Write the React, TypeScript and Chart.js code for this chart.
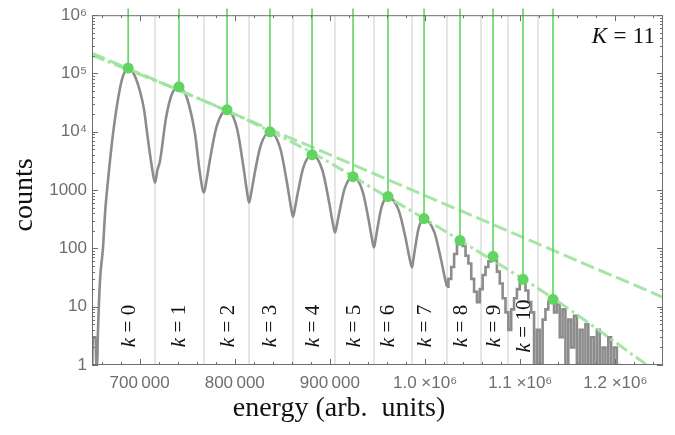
import React, { useEffect, useRef } from "react";
import { Chart, registerables } from "chart.js";
Chart.register(...registerables);

// ---------- data ----------
const X_MIN = 650000;
const X_MAX = 1250000;
const Y_MIN = 1;
const Y_MAX = 1e6;

const X_TICKS = [700000, 800000, 900000, 1000000, 1100000, 1200000];
const X_TICK_LABELS = ["700\u2009000", "800\u2009000", "900\u2009000", "1.0 \u00d710\u2076", "1.1 \u00d710\u2076", "1.2 \u00d710\u2076"];
const Y_TICKS = [1, 10, 100, 1000, 1e4, 1e5, 1e6];
const Y_TICK_LABELS = ["1", "10", "100", "1000", "10\u2074", "10\u2075", "10\u2076"];

// peak positions (green stems / dots)
const PEAK_E = [688000, 741400, 791900, 837000, 881200, 924300, 961000, 998900, 1036700, 1071400, 1102900, 1134400];
const PEAK_C = [124000, 59000, 23800, 10000, 4050, 1700, 775, 325, 137, 73, 29.5, 13.4];
const STEM_TOP = 1.3e6;
const K_LABELS = ["0", "1", "2", "3", "4", "5", "6", "7", "8", "9", "10"];
const K_TOTAL = "11";

// region boundaries (light grey verticals)
const BOUNDARY_E = [716200, 767700, 815000, 861200, 905300, 946300, 986300, 1023000, 1058800, 1087100, 1118700];

// smooth part of the measured spectrum
const SPEC_E = [
  650300, 651000, 653800, 654500, 655300, 656300, 658400, 661600, 663700, 666800, 672100, 679400, 683600, 687800,
  692000, 696200, 700400, 704600, 708800, 713000, 716200,
  718700, 721500, 727800, 734100, 741400, 745600, 749800, 758200, 763500, 767700,
  770100, 773700, 781000, 791900, 802300, 809200, 812700, 815000,
  817200, 820500, 827100, 837000, 847900, 855200, 858800, 861200,
  863200, 866200, 872200, 881200, 892100, 899300, 902900, 905300,
  907200, 910100, 915700, 924300, 934200, 940800, 944100, 946300,
  947800, 950000, 954400, 961000, 972400, 980000, 983700, 986300,
  987500, 989400, 993200, 998900, 1009700, 1017000, 1020600, 1023000,
];
const SPEC_C = [
  1, 3, 3, 1, 1, 4, 28, 105, 400, 1450, 9300, 56000, 100000, 122000,
  112000, 81000, 50000, 24500, 7400, 2450, 1340,
  2190, 3200, 17400, 45000, 58000, 52000, 38000, 9300, 1900, 910,
  1390, 3150, 12400, 23500, 11500, 2450, 980, 610,
  877, 1770, 5710, 9900, 5120, 1250, 542, 350,
  482, 889, 2480, 4000, 2190, 600, 278, 187,
  248, 432, 1090, 1680, 973, 302, 150, 104,
  136, 224, 520, 765, 444, 137, 68, 47,
  61, 98, 220, 320, 190, 62, 32, 22,
];

// noisy histogram tail (bins of 3000)
const TAIL_START = 1023000;
const TAIL_BIN = 3000;
const TAIL_C = [
  22, 30, 48, 80, 120, 130, 110, 75, 55, 30, 18, 12, 20, 35, 48, 60, 70, 62, 40, 25,
  14, 8, 4, 9, 14, 20, 27, 28, 19, 12, 8, 1, 4, 1, 6, 9, 12, 13, 8, 11,
  3, 9, 1, 6, 2, 7, 1, 4, 1, 5, 1, 3, 1, 4, 1, 2, 1, 3, 1, 2, 1, 1,
];

// exponential fit (dashed) and model curve (dash-dot)
const FIT_E = [650000, 1250000];
const FIT_C = [224000, 14.5];
const MODEL_E = [650000, 791900, 881200, 952600, 998900, 1036700, 1134400, 1236300];
const MODEL_C = [207000, 22900, 4380, 906, 326, 137, 14, 0.92];

// ---------- styles ----------
const GREEN = "rgb(98, 212, 98)";
const FIT_GREEN = "rgba(160, 228, 160, 0.95)";
const GREY = "rgb(140, 140, 140)";
const FRAME = "rgb(110, 110, 110)";
const TICK_TEXT = "rgb(110, 110, 110)";
const SERIF = "'Liberation Serif', 'DejaVu Serif', serif";
const SANS = "'Liberation Sans', Arial, sans-serif";

function drawMath(ctx: CanvasRenderingContext2D, parts: { t: string; it?: boolean; gap?: number }[], size: number, cx: number, cy: number, align: "center" | "right") {
  const widths = parts.map((p) => {
    ctx.font = `${p.it ? "italic " : ""}${size}px ${SERIF}`;
    return ctx.measureText(p.t).width + (p.gap || 0) * size;
  });
  const total = widths.reduce((a, b) => a + b, 0);
  let x = align === "center" ? cx - total / 2 : cx - total;
  ctx.textAlign = "left";
  ctx.textBaseline = "middle";
  parts.forEach((p, i) => {
    ctx.font = `${p.it ? "italic " : ""}${size}px ${SERIF}`;
    ctx.fillText(p.t, x, cy);
    x += widths[i];
  });
}

const decorPlugin = {
  id: "decor",
  afterDatasetsDraw(chart: any) {
    const { ctx, chartArea: ca, scales } = chart;
    const xs = scales.x;
    const ys = scales.y;
    ctx.save();
    // frame
    ctx.strokeStyle = FRAME;
    ctx.lineWidth = 1;
    ctx.strokeRect(ca.left + 0.5, ca.top + 0.5, ca.right - ca.left - 1, ca.bottom - ca.top - 1);
    // x ticks (inward, bottom and top)
    ctx.beginPath();
    for (let v = 660000; v < X_MAX; v += 20000) {
      const px = Math.round(xs.getPixelForValue(v)) + 0.5;
      const len = v % 100000 === 0 ? 6 : 3;
      ctx.moveTo(px, ca.bottom);
      ctx.lineTo(px, ca.bottom - len);
      ctx.moveTo(px, ca.top);
      ctx.lineTo(px, ca.top + len);
    }
    // y ticks (inward, left and right)
    for (let d = 0; d <= 6; d++) {
      for (let m = 1; m <= 9; m++) {
        const v = m * Math.pow(10, d);
        if (v > Y_MAX) break;
        const py = Math.round(ys.getPixelForValue(v)) + 0.5;
        const len = m === 1 ? 6 : 3;
        ctx.moveTo(ca.left, py);
        ctx.lineTo(ca.left + len, py);
        ctx.moveTo(ca.right, py);
        ctx.lineTo(ca.right - len, py);
      }
    }
    ctx.stroke();

    // k labels
    ctx.fillStyle = "#111";
    K_LABELS.forEach((k, i) => {
      const px = xs.getPixelForValue(PEAK_E[i]);
      ctx.save();
      ctx.translate(px + 1, 326);
      ctx.rotate(-Math.PI / 2);
      drawMath(ctx, [{ t: "k", it: true, gap: 0.26 }, { t: "=", gap: 0.26 }, { t: k }], 21, 0, 0, "center");
      ctx.restore();
    });
    // K = 11
    drawMath(ctx, [{ t: "K", it: true, gap: 0.28 }, { t: "=", gap: 0.28 }, { t: K_TOTAL }], 23, ca.right - 8, ca.top + 22, "right");

    // axis titles
    ctx.fillStyle = "#111";
    ctx.font = `28px ${SERIF}`;
    ctx.textAlign = "center";
    ctx.textBaseline = "middle";
    ctx.save();
    ctx.translate(25, 195);
    ctx.rotate(-Math.PI / 2);
    ctx.fillText("counts", 0, 0);
    ctx.restore();
    ctx.fillText("energy (arb.\u2002units)", 339, 409);
    ctx.restore();
  },
};

export default function App() {
  const ref = useRef<HTMLCanvasElement>(null);
  useEffect(() => {
    if (!ref.current) return;
    const stems: any[] = [];
    PEAK_E.forEach((e, i) => {
      stems.push({ x: e, y: STEM_TOP }, { x: e, y: PEAK_C[i] }, { x: e, y: null });
    });
    const bounds: any[] = [];
    BOUNDARY_E.forEach((e) => {
      bounds.push({ x: e, y: Y_MIN }, { x: e, y: Y_MAX }, { x: e, y: null });
    });
    const spec = SPEC_E.map((e, i) => ({ x: e, y: SPEC_C[i] }));
    const tail = TAIL_C.map((c, i) => ({ x: TAIL_START + i * TAIL_BIN, y: c }));
    const dots = PEAK_E.map((e, i) => ({ x: e, y: PEAK_C[i] }));
    const fit = FIT_E.map((e, i) => ({ x: e, y: FIT_C[i] }));
    const model = MODEL_E.map((e, i) => ({ x: e, y: MODEL_C[i] }));

    const chart = new Chart(ref.current, {
      type: "line",
      data: {
        datasets: [
          { data: dots, showLine: false, pointRadius: 5.5, pointBackgroundColor: GREEN, pointBorderWidth: 0, order: 0 } as any,
          { data: stems, borderColor: GREEN, borderWidth: 1.6, pointRadius: 0, spanGaps: false, clip: false, order: 1 } as any,
          { data: fit, borderColor: FIT_GREEN, borderWidth: 3, borderDash: [14, 5], pointRadius: 0, order: 2 } as any,
          { data: model, borderColor: FIT_GREEN, borderWidth: 3, borderDash: [13, 4, 3, 4], pointRadius: 0, cubicInterpolationMode: "monotone", order: 2 } as any,
          { data: spec, borderColor: GREY, borderWidth: 2.6, pointRadius: 0, cubicInterpolationMode: "monotone", order: 3 } as any,
          { data: tail, borderColor: GREY, borderWidth: 2.6, pointRadius: 0, stepped: "middle", order: 3 } as any,
          { data: bounds, borderColor: "rgb(222, 222, 222)", borderWidth: 1.5, pointRadius: 0, spanGaps: false, order: 5 } as any,
        ],
      },
      options: {
        animation: false,
        responsive: false,
        devicePixelRatio: 1,
        events: [],
        layout: { padding: { left: 0, right: 12, top: 14, bottom: 0 } },
        plugins: { legend: { display: false }, tooltip: { enabled: false } },
        scales: {
          x: {
            type: "linear",
            min: X_MIN,
            max: X_MAX,
            grid: { display: false, drawTicks: false },
            border: { display: false },
            ticks: {
              autoSkip: false,
              maxRotation: 0,
              padding: 8,
              color: TICK_TEXT,
              font: { family: SANS, size: 17 },
              callback: (v: any) => {
                const i = X_TICKS.indexOf(Number(v));
                return i >= 0 ? X_TICK_LABELS[i] : "";
              },
            },
            afterBuildTicks: (s: any) => {
              s.ticks = X_TICKS.map((v) => ({ value: v }));
            },
            afterFit: (s: any) => {
              s.height = 70;
            },
          },
          y: {
            type: "logarithmic",
            min: Y_MIN,
            max: Y_MAX,
            grid: { display: false, drawTicks: false },
            border: { display: false },
            ticks: {
              autoSkip: false,
              padding: 5,
              color: TICK_TEXT,
              font: { family: SANS, size: 17 },
              callback: (v: any) => {
                const i = Y_TICKS.indexOf(Number(v));
                return i >= 0 ? Y_TICK_LABELS[i] : "";
              },
            },
            afterBuildTicks: (s: any) => {
              s.ticks = Y_TICKS.map((v) => ({ value: v, major: true }));
            },
            afterFit: (s: any) => {
              s.width = 92;
            },
          },
        },
      } as any,
      plugins: [decorPlugin],
    });
    return () => chart.destroy();
  }, []);
  return (
    <div style={{ position: "fixed", left: 0, top: 0, width: 675, height: 435, background: "#fff" }}>
      <canvas ref={ref} width={675} height={435} />
    </div>
  );
}
